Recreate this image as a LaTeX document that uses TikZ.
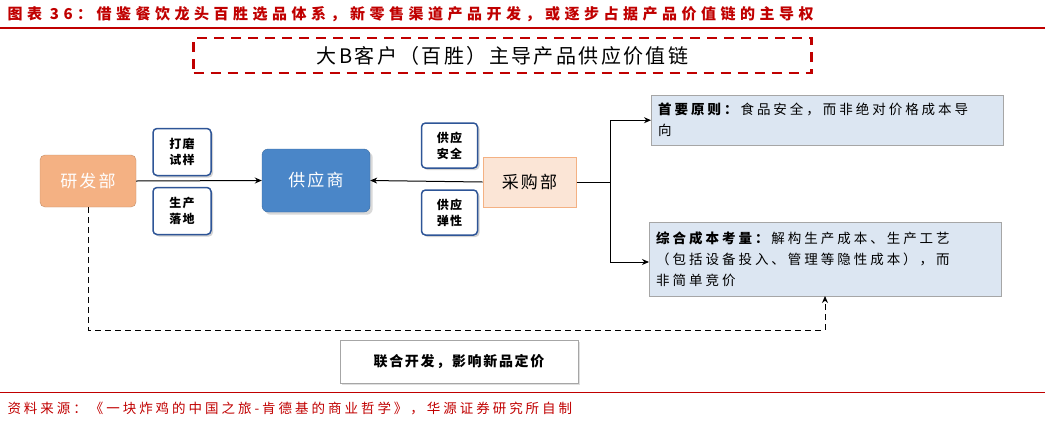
\documentclass[tikz,border=0pt]{standalone}
\usepackage{fontspec}
\setmainfont{Noto Sans CJK SC}[LetterSpace=12]
\newfontfamily\tsp{Noto Sans CJK SC}[LetterSpace=30]
\newfontfamily\rsp{Noto Sans CJK SC}[LetterSpace=22]
\usetikzlibrary{arrows.meta,shadows}
\definecolor{hred}{HTML}{C00000}
\definecolor{bblue}{HTML}{2E5597}
\definecolor{sblue}{HTML}{4A86C8}
\definecolor{lblue}{HTML}{DCE6F2}
\definecolor{ora}{HTML}{F4B183}
\definecolor{peach}{HTML}{FBE5D6}
\begin{document}
\begin{tikzpicture}[x=1pt,y=-1pt,
  small/.style={draw=bblue,line width=1.5pt,fill=white,rounded corners=4pt,minimum width=58pt,minimum height=47pt,align=center,font=\fontsize{12}{16}\selectfont\bfseries,drop shadow={opacity=0.35,shadow xshift=2pt,shadow yshift=-2pt}},
  rbox/.style={draw=gray!70,fill=lblue,anchor=north west,align=left,inner sep=7pt,font=\rsp\fontsize{13.5}{21}\selectfont,text width=#1},
  arr/.style={-{Stealth[length=7pt,width=6pt]},line width=1pt}]
\useasboundingbox (0,0) rectangle (1045,421);
\node[anchor=west,text=hred,font=\tsp\fontsize{15}{18}\selectfont\bfseries] (title) at (4,14) {图表 36：借鉴餐饮龙头百胜选品体系，新零售渠道产品开发，或逐步占据产品价值链的主导权};
\draw[hred,line width=1.2pt] (0,28) -- (1045,28);
\node[draw=hred,dashed,line width=2.5pt,dash pattern=on 10pt off 7pt,minimum width=618pt,minimum height=35pt,font=\fontsize{20}{24}\selectfont] (top) at (502.5,55.5) {大B客户（百胜）主导产品供应价值链};
\node[fill=ora,draw=ora!80!black,rounded corners=5pt,minimum width=96pt,minimum height=52pt,text=white,font=\fontsize{17}{20}\selectfont] (yf) at (88,181) {研发部};
\node[fill=sblue,draw=sblue!80!black,rounded corners=6pt,minimum width=108pt,minimum height=63pt,text=white,font=\fontsize{17}{20}\selectfont,drop shadow={opacity=0.3}] (gys) at (316,180.5) {供应商};
\node[fill=peach,draw=ora,line width=1pt,minimum width=93pt,minimum height=50pt,font=\fontsize{17}{20}\selectfont] (cg) at (529.5,182) {采购部};
\node[small] (s1) at (182,152) {打磨\\试样};
\node[small] (s2) at (182,211) {生产\\落地};
\node[small,minimum width=56pt,minimum height=45pt] (s3) at (449.5,145.5) {供应\\安全};
\node[small,minimum width=56pt,minimum height=45pt] (s4) at (449.5,212.5) {供应\\弹性};
\draw[arr] (yf.east) -- (gys.west);
\draw[arr] (cg.west) -- (gys.east);
\node[rbox=338pt,minimum height=50pt] (r1) at (651,95) {\textbf{首要原则：}食品安全，而非绝对价格成本导\\向};
\node[rbox=338pt,minimum height=74pt] (r2) at (649,222) {\textbf{综合成本考量：}解构生产成本、生产工艺\\（包括设备投入、管理等隐性成本），而\\非简单竞价};
\coordinate (j) at (610,182);
\draw[line width=1pt] (cg.east) -- (j);
\draw[arr] (j) |- (r1.west);
\draw[arr] (j) |- (649,262);
\coordinate (d1) at (88,330);
\coordinate (d2) at (825,330);
\draw[arr,dashed,dash pattern=on 6pt off 4pt] (yf.south) -- (d1) -- (d2) -- (825,296);
\node[draw=gray!70,fill=white,minimum width=238pt,minimum height=43pt,font=\fontsize{14}{17}\selectfont\bfseries,drop shadow={opacity=0.25,shadow xshift=2pt,shadow yshift=-2pt}] (jd) at (459,361.5) {联合开发，影响新品定价};
\draw[hred,line width=1pt] (0,392) -- (1045,392);
\node[anchor=west,text=hred,font=\rsp\fontsize{13.5}{16}\selectfont] (src) at (4,408) {资料来源：《一块炸鸡的中国之旅-肯德基的商业哲学》，华源证券研究所自制};
\end{tikzpicture}
\end{document}
